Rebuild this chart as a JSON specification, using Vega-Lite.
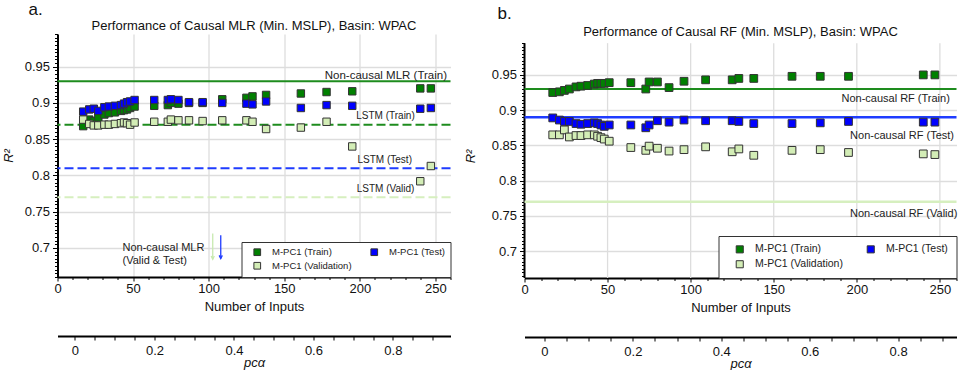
{
  "$schema": "https://vega.github.io/schema/vega-lite/v6.json",
  "padding": {"left": 1.5, "top": 0, "right": 0, "bottom": 0},
  "background": "white",
  "config": {
    "font": "Liberation Sans",
    "view": {"stroke": null},
    "title": {"fontWeight": "normal", "color": "#111111"},
    "axis": {
      "titleFontSize": 13, "titleFontWeight": "normal", "titleColor": "#111111",
      "labelFontSize": 13, "labelColor": "#111111", "labelOverlap": false, "labelFlush": false,
      "domainColor": "#000000", "domainWidth": 2, "tickColor": "#000000", "tickWidth": 1,
      "gridColor": "#dddddd", "gridWidth": 1.3
    }
  },
  "spacing": 12,
  "resolve": {"scale": {"color": "independent"}, "legend": {"color": "independent"}},
  "datasets": {
    "a": [
      {"n": 17, "r2": 0.868, "series": "M-PC1 (Train)"},
      {"n": 21, "r2": 0.877, "series": "M-PC1 (Train)"},
      {"n": 24, "r2": 0.875, "series": "M-PC1 (Train)"},
      {"n": 27, "r2": 0.880, "series": "M-PC1 (Train)"},
      {"n": 31, "r2": 0.884, "series": "M-PC1 (Train)"},
      {"n": 34, "r2": 0.886, "series": "M-PC1 (Train)"},
      {"n": 38, "r2": 0.887, "series": "M-PC1 (Train)"},
      {"n": 42, "r2": 0.889, "series": "M-PC1 (Train)"},
      {"n": 44, "r2": 0.890, "series": "M-PC1 (Train)"},
      {"n": 46, "r2": 0.891, "series": "M-PC1 (Train)"},
      {"n": 48, "r2": 0.893, "series": "M-PC1 (Train)"},
      {"n": 51, "r2": 0.895, "series": "M-PC1 (Train)"},
      {"n": 64, "r2": 0.896, "series": "M-PC1 (Train)"},
      {"n": 73, "r2": 0.897, "series": "M-PC1 (Train)"},
      {"n": 75, "r2": 0.900, "series": "M-PC1 (Train)"},
      {"n": 80, "r2": 0.899, "series": "M-PC1 (Train)"},
      {"n": 87, "r2": 0.900, "series": "M-PC1 (Train)"},
      {"n": 96, "r2": 0.900, "series": "M-PC1 (Train)"},
      {"n": 109, "r2": 0.905, "series": "M-PC1 (Train)"},
      {"n": 125, "r2": 0.907, "series": "M-PC1 (Train)"},
      {"n": 129, "r2": 0.909, "series": "M-PC1 (Train)"},
      {"n": 138, "r2": 0.911, "series": "M-PC1 (Train)"},
      {"n": 161, "r2": 0.913, "series": "M-PC1 (Train)"},
      {"n": 178, "r2": 0.915, "series": "M-PC1 (Train)"},
      {"n": 195, "r2": 0.916, "series": "M-PC1 (Train)"},
      {"n": 240, "r2": 0.920, "series": "M-PC1 (Train)"},
      {"n": 247, "r2": 0.920, "series": "M-PC1 (Train)"},
      {"n": 17, "r2": 0.888, "series": "M-PC1 (Test)"},
      {"n": 21, "r2": 0.891, "series": "M-PC1 (Test)"},
      {"n": 24, "r2": 0.892, "series": "M-PC1 (Test)"},
      {"n": 27, "r2": 0.889, "series": "M-PC1 (Test)"},
      {"n": 31, "r2": 0.894, "series": "M-PC1 (Test)"},
      {"n": 34, "r2": 0.895, "series": "M-PC1 (Test)"},
      {"n": 38, "r2": 0.896, "series": "M-PC1 (Test)"},
      {"n": 42, "r2": 0.897, "series": "M-PC1 (Test)"},
      {"n": 44, "r2": 0.899, "series": "M-PC1 (Test)"},
      {"n": 46, "r2": 0.901, "series": "M-PC1 (Test)"},
      {"n": 48, "r2": 0.902, "series": "M-PC1 (Test)"},
      {"n": 51, "r2": 0.904, "series": "M-PC1 (Test)"},
      {"n": 64, "r2": 0.904, "series": "M-PC1 (Test)"},
      {"n": 73, "r2": 0.904, "series": "M-PC1 (Test)"},
      {"n": 75, "r2": 0.905, "series": "M-PC1 (Test)"},
      {"n": 80, "r2": 0.904, "series": "M-PC1 (Test)"},
      {"n": 87, "r2": 0.901, "series": "M-PC1 (Test)"},
      {"n": 96, "r2": 0.901, "series": "M-PC1 (Test)"},
      {"n": 109, "r2": 0.900, "series": "M-PC1 (Test)"},
      {"n": 125, "r2": 0.899, "series": "M-PC1 (Test)"},
      {"n": 129, "r2": 0.898, "series": "M-PC1 (Test)"},
      {"n": 138, "r2": 0.902, "series": "M-PC1 (Test)"},
      {"n": 161, "r2": 0.893, "series": "M-PC1 (Test)"},
      {"n": 178, "r2": 0.897, "series": "M-PC1 (Test)"},
      {"n": 195, "r2": 0.896, "series": "M-PC1 (Test)"},
      {"n": 240, "r2": 0.892, "series": "M-PC1 (Test)"},
      {"n": 247, "r2": 0.893, "series": "M-PC1 (Test)"},
      {"n": 17, "r2": 0.877, "series": "M-PC1 (Validation)"},
      {"n": 21, "r2": 0.871, "series": "M-PC1 (Validation)"},
      {"n": 24, "r2": 0.869, "series": "M-PC1 (Validation)"},
      {"n": 27, "r2": 0.869, "series": "M-PC1 (Validation)"},
      {"n": 31, "r2": 0.870, "series": "M-PC1 (Validation)"},
      {"n": 34, "r2": 0.870, "series": "M-PC1 (Validation)"},
      {"n": 38, "r2": 0.871, "series": "M-PC1 (Validation)"},
      {"n": 42, "r2": 0.872, "series": "M-PC1 (Validation)"},
      {"n": 44, "r2": 0.873, "series": "M-PC1 (Validation)"},
      {"n": 46, "r2": 0.872, "series": "M-PC1 (Validation)"},
      {"n": 48, "r2": 0.870, "series": "M-PC1 (Validation)"},
      {"n": 51, "r2": 0.873, "series": "M-PC1 (Validation)"},
      {"n": 64, "r2": 0.874, "series": "M-PC1 (Validation)"},
      {"n": 73, "r2": 0.874, "series": "M-PC1 (Validation)"},
      {"n": 75, "r2": 0.877, "series": "M-PC1 (Validation)"},
      {"n": 80, "r2": 0.876, "series": "M-PC1 (Validation)"},
      {"n": 87, "r2": 0.876, "series": "M-PC1 (Validation)"},
      {"n": 96, "r2": 0.875, "series": "M-PC1 (Validation)"},
      {"n": 109, "r2": 0.876, "series": "M-PC1 (Validation)"},
      {"n": 125, "r2": 0.876, "series": "M-PC1 (Validation)"},
      {"n": 129, "r2": 0.874, "series": "M-PC1 (Validation)"},
      {"n": 138, "r2": 0.864, "series": "M-PC1 (Validation)"},
      {"n": 161, "r2": 0.866, "series": "M-PC1 (Validation)"},
      {"n": 178, "r2": 0.874, "series": "M-PC1 (Validation)"},
      {"n": 195, "r2": 0.840, "series": "M-PC1 (Validation)"},
      {"n": 240, "r2": 0.792, "series": "M-PC1 (Validation)"},
      {"n": 247, "r2": 0.813, "series": "M-PC1 (Validation)"}
    ],
    "b": [
      {"n": 17, "r2": 0.925, "series": "M-PC1 (Train)"},
      {"n": 21, "r2": 0.926, "series": "M-PC1 (Train)"},
      {"n": 24, "r2": 0.928, "series": "M-PC1 (Train)"},
      {"n": 27, "r2": 0.930, "series": "M-PC1 (Train)"},
      {"n": 31, "r2": 0.933, "series": "M-PC1 (Train)"},
      {"n": 34, "r2": 0.934, "series": "M-PC1 (Train)"},
      {"n": 38, "r2": 0.935, "series": "M-PC1 (Train)"},
      {"n": 42, "r2": 0.937, "series": "M-PC1 (Train)"},
      {"n": 44, "r2": 0.938, "series": "M-PC1 (Train)"},
      {"n": 46, "r2": 0.938, "series": "M-PC1 (Train)"},
      {"n": 48, "r2": 0.938, "series": "M-PC1 (Train)"},
      {"n": 51, "r2": 0.939, "series": "M-PC1 (Train)"},
      {"n": 64, "r2": 0.939, "series": "M-PC1 (Train)"},
      {"n": 73, "r2": 0.930, "series": "M-PC1 (Train)"},
      {"n": 75, "r2": 0.940, "series": "M-PC1 (Train)"},
      {"n": 80, "r2": 0.940, "series": "M-PC1 (Train)"},
      {"n": 87, "r2": 0.932, "series": "M-PC1 (Train)"},
      {"n": 96, "r2": 0.941, "series": "M-PC1 (Train)"},
      {"n": 109, "r2": 0.943, "series": "M-PC1 (Train)"},
      {"n": 125, "r2": 0.943, "series": "M-PC1 (Train)"},
      {"n": 129, "r2": 0.945, "series": "M-PC1 (Train)"},
      {"n": 138, "r2": 0.945, "series": "M-PC1 (Train)"},
      {"n": 161, "r2": 0.948, "series": "M-PC1 (Train)"},
      {"n": 178, "r2": 0.948, "series": "M-PC1 (Train)"},
      {"n": 195, "r2": 0.948, "series": "M-PC1 (Train)"},
      {"n": 240, "r2": 0.950, "series": "M-PC1 (Train)"},
      {"n": 247, "r2": 0.950, "series": "M-PC1 (Train)"},
      {"n": 17, "r2": 0.889, "series": "M-PC1 (Test)"},
      {"n": 21, "r2": 0.886, "series": "M-PC1 (Test)"},
      {"n": 24, "r2": 0.884, "series": "M-PC1 (Test)"},
      {"n": 27, "r2": 0.884, "series": "M-PC1 (Test)"},
      {"n": 31, "r2": 0.881, "series": "M-PC1 (Test)"},
      {"n": 34, "r2": 0.880, "series": "M-PC1 (Test)"},
      {"n": 38, "r2": 0.881, "series": "M-PC1 (Test)"},
      {"n": 42, "r2": 0.882, "series": "M-PC1 (Test)"},
      {"n": 44, "r2": 0.881, "series": "M-PC1 (Test)"},
      {"n": 46, "r2": 0.879, "series": "M-PC1 (Test)"},
      {"n": 48, "r2": 0.877, "series": "M-PC1 (Test)"},
      {"n": 51, "r2": 0.879, "series": "M-PC1 (Test)"},
      {"n": 64, "r2": 0.879, "series": "M-PC1 (Test)"},
      {"n": 73, "r2": 0.875, "series": "M-PC1 (Test)"},
      {"n": 75, "r2": 0.879, "series": "M-PC1 (Test)"},
      {"n": 80, "r2": 0.885, "series": "M-PC1 (Test)"},
      {"n": 87, "r2": 0.883, "series": "M-PC1 (Test)"},
      {"n": 96, "r2": 0.886, "series": "M-PC1 (Test)"},
      {"n": 109, "r2": 0.885, "series": "M-PC1 (Test)"},
      {"n": 125, "r2": 0.885, "series": "M-PC1 (Test)"},
      {"n": 129, "r2": 0.884, "series": "M-PC1 (Test)"},
      {"n": 138, "r2": 0.881, "series": "M-PC1 (Test)"},
      {"n": 161, "r2": 0.881, "series": "M-PC1 (Test)"},
      {"n": 178, "r2": 0.882, "series": "M-PC1 (Test)"},
      {"n": 195, "r2": 0.884, "series": "M-PC1 (Test)"},
      {"n": 240, "r2": 0.883, "series": "M-PC1 (Test)"},
      {"n": 247, "r2": 0.883, "series": "M-PC1 (Test)"},
      {"n": 17, "r2": 0.865, "series": "M-PC1 (Validation)"},
      {"n": 21, "r2": 0.865, "series": "M-PC1 (Validation)"},
      {"n": 24, "r2": 0.872, "series": "M-PC1 (Validation)"},
      {"n": 27, "r2": 0.862, "series": "M-PC1 (Validation)"},
      {"n": 31, "r2": 0.864, "series": "M-PC1 (Validation)"},
      {"n": 34, "r2": 0.864, "series": "M-PC1 (Validation)"},
      {"n": 38, "r2": 0.865, "series": "M-PC1 (Validation)"},
      {"n": 42, "r2": 0.865, "series": "M-PC1 (Validation)"},
      {"n": 44, "r2": 0.863, "series": "M-PC1 (Validation)"},
      {"n": 46, "r2": 0.861, "series": "M-PC1 (Validation)"},
      {"n": 48, "r2": 0.859, "series": "M-PC1 (Validation)"},
      {"n": 51, "r2": 0.856, "series": "M-PC1 (Validation)"},
      {"n": 64, "r2": 0.847, "series": "M-PC1 (Validation)"},
      {"n": 73, "r2": 0.843, "series": "M-PC1 (Validation)"},
      {"n": 75, "r2": 0.849, "series": "M-PC1 (Validation)"},
      {"n": 80, "r2": 0.846, "series": "M-PC1 (Validation)"},
      {"n": 87, "r2": 0.842, "series": "M-PC1 (Validation)"},
      {"n": 96, "r2": 0.844, "series": "M-PC1 (Validation)"},
      {"n": 109, "r2": 0.848, "series": "M-PC1 (Validation)"},
      {"n": 125, "r2": 0.841, "series": "M-PC1 (Validation)"},
      {"n": 129, "r2": 0.845, "series": "M-PC1 (Validation)"},
      {"n": 138, "r2": 0.836, "series": "M-PC1 (Validation)"},
      {"n": 161, "r2": 0.843, "series": "M-PC1 (Validation)"},
      {"n": 178, "r2": 0.844, "series": "M-PC1 (Validation)"},
      {"n": 195, "r2": 0.840, "series": "M-PC1 (Validation)"},
      {"n": 240, "r2": 0.838, "series": "M-PC1 (Validation)"},
      {"n": 247, "r2": 0.837, "series": "M-PC1 (Validation)"}
    ]
  },
  "hconcat": [
    {
      "title": {"text": "a.", "anchor": "start", "fontSize": 17, "dx": -29, "offset": 1.5, "frame": "group"},
      "spacing": 19,
      "resolve": {"scale": {"color": "independent"}, "legend": {"color": "independent"}},
      "vconcat": [
        {
          "width": 393,
          "height": 243,
          "title": {"text": "Performance of Causal MLR (Min. MSLP), Basin: WPAC", "fontSize": 13, "anchor": "middle", "frame": "group", "offset": -5},
          "resolve": {"axis": {"x": "independent", "y": "independent"}},
          "layer": [
            {
              "data": {"values": [{"r2": 0.93}]},
              "mark": {"type": "rule", "color": "#1e8c1e", "strokeWidth": 2},
              "encoding": {"y": {"field": "r2", "type": "quantitative", "scale": {"domain": [0.66, 0.995], "nice": false, "zero": false}, "axis": null}}
            },
            {
              "data": {"values": [{"r2": 0.87}]},
              "mark": {"type": "rule", "color": "#1e8c1e", "strokeWidth": 2, "strokeDash": [9, 4]},
              "encoding": {"y": {"field": "r2", "type": "quantitative", "axis": null}}
            },
            {
              "data": {"values": [{"r2": 0.81}]},
              "mark": {"type": "rule", "color": "#1f3cff", "strokeWidth": 2, "strokeDash": [9, 4]},
              "encoding": {"y": {"field": "r2", "type": "quantitative", "axis": null}}
            },
            {
              "data": {"values": [{"r2": 0.77}]},
              "mark": {"type": "rule", "color": "#d6efbf", "strokeWidth": 2, "strokeDash": [9, 4]},
              "encoding": {"y": {"field": "r2", "type": "quantitative", "axis": null}}
            },
            {
              "data": {"name": "a"},
              "mark": {"type": "point", "shape": "square", "filled": true, "size": 55, "stroke": "#333333", "strokeWidth": 1, "opacity": 1},
              "encoding": {
                "x": {
                  "field": "n", "type": "quantitative",
                  "scale": {"domain": [0, 260], "nice": false, "zero": false},
                  "axis": {
                    "orient": "bottom",
                    "title": "Number of Inputs", "titlePadding": 5,
                    "values": [0, 10, 20, 30, 40, 50, 60, 70, 80, 90, 100, 110, 120, 130, 140, 150, 160, 170, 180, 190, 200, 210, 220, 230, 240, 250, 260],
                    "labelExpr": "datum.value % 50 == 0 ? datum.label : ''",
                    "labelPadding": 1,
                    "tickSize": {"condition": {"test": "datum.value % 50 == 0", "value": 4}, "value": 2.5},
                    "grid": true,
                    "gridOpacity": {"condition": {"test": "datum.value % 50 == 0", "value": 1}, "value": 0}
                  }
                },
                "y": {
                  "field": "r2", "type": "quantitative",
                  "scale": {"domain": [0.66, 0.995], "nice": false, "zero": false},
                  "axis": {
                    "orient": "left",
                    "title": "R²", "titleFontStyle": "italic", "titlePadding": 9,
                    "values": [0.66,0.665,0.67,0.675,0.68,0.685,0.69,0.695,0.7,0.705,0.71,0.715,0.72,0.725,0.73,0.735,0.74,0.745,0.75,0.755,0.76,0.765,0.77,0.775,0.78,0.785,0.79,0.795,0.8,0.805,0.81,0.815,0.82,0.825,0.83,0.835,0.84,0.845,0.85,0.855,0.86,0.865,0.87,0.875,0.88,0.885,0.89,0.895,0.9,0.905,0.91,0.915,0.92,0.925,0.93,0.935,0.94,0.945,0.95,0.955,0.96,0.965,0.97,0.975,0.98,0.985,0.99,0.995],
                    "format": ".3~g",
                    "labelExpr": "abs(datum.value*20 - round(datum.value*20)) < 0.01 ? datum.label : ''",
                    "labelPadding": 3,
                    "tickSize": {"condition": {"test": "abs(datum.value*20 - round(datum.value*20)) < 0.01", "value": 5}, "value": 3},
                    "grid": true,
                    "gridOpacity": {"condition": {"test": "abs(datum.value*20 - round(datum.value*20)) < 0.01", "value": 1}, "value": 0}
                  }
                },
                "color": {
                  "field": "series", "type": "nominal",
                  "scale": {"domain": ["M-PC1 (Train)", "M-PC1 (Validation)", "M-PC1 (Test)"], "range": ["#008000", "#d3edb6", "#0000ff"]},
                  "legend": {
                    "title": null, "orient": "bottom-right", "offset": 0, "columns": 2,
                    "symbolType": "square", "symbolSize": 45, "symbolStrokeColor": "#333333", "symbolStrokeWidth": 1, "symbolOffset": 6,
                    "labelFontSize": 9.5, "labelColor": "#222222", "labelOffset": 10,
                    "columnPadding": 11, "rowPadding": 2, "padding": 5,
                    "strokeColor": "#333333", "fillColor": "#ffffff", "cornerRadius": 0
                  }
                }
              }
            },
            {
              "data": {"values": [{"n": 257.7, "r2": 0.937, "label": "Non-causal MLR (Train)"}]},
              "mark": {"type": "text", "align": "right", "baseline": "middle", "fontSize": 11.5, "color": "#222222"},
              "encoding": {
                "x": {"field": "n", "type": "quantitative", "axis": null},
                "y": {"field": "r2", "type": "quantitative", "axis": null},
                "text": {"field": "label"}
              }
            },
            {
              "data": {"values": [
                {"n": 217, "r2": 0.882, "label": "LSTM (Train)"},
                {"n": 216.5, "r2": 0.821, "label": "LSTM (Test)"},
                {"n": 217, "r2": 0.7815, "label": "LSTM (Valid)"}
              ]},
              "mark": {"type": "text", "align": "center", "baseline": "middle", "fontSize": 10, "color": "#222222"},
              "encoding": {
                "x": {"field": "n", "type": "quantitative", "axis": null},
                "y": {"field": "r2", "type": "quantitative", "axis": null},
                "text": {"field": "label"}
              }
            },
            {
              "data": {"values": [{"n": 43, "r2": 0.6995, "label": "Non-causal MLR\n(Valid & Test)"}]},
              "mark": {"type": "text", "align": "left", "baseline": "middle", "fontSize": 11, "lineBreak": "\n", "lineHeight": 12.6, "color": "#222222"},
              "encoding": {
                "x": {"field": "n", "type": "quantitative", "axis": null},
                "y": {"field": "r2", "type": "quantitative", "axis": null},
                "text": {"field": "label"}
              }
            },
            {
              "data": {"values": [{"n": 102.7, "r2": 0.72, "r2b": 0.6845}]},
              "mark": {"type": "rule", "color": "#c8eab0", "strokeWidth": 1.3},
              "encoding": {
                "x": {"field": "n", "type": "quantitative", "axis": null},
                "y": {"field": "r2", "type": "quantitative", "axis": null},
                "y2": {"field": "r2b"}
              }
            },
            {
              "data": {"values": [{"n": 102.7, "r2": 0.6845}]},
              "mark": {"type": "point", "shape": "M-0.5,-1L0,0L0.5,-1", "filled": false, "size": 40, "color": "#c8eab0", "strokeWidth": 1.3, "opacity": 1},
              "encoding": {
                "x": {"field": "n", "type": "quantitative", "axis": null},
                "y": {"field": "r2", "type": "quantitative", "axis": null}
              }
            },
            {
              "data": {"values": [{"n": 108, "r2": 0.7176, "r2b": 0.6855}]},
              "mark": {"type": "rule", "color": "#1f3cff", "strokeWidth": 1.3},
              "encoding": {
                "x": {"field": "n", "type": "quantitative", "axis": null},
                "y": {"field": "r2", "type": "quantitative", "axis": null},
                "y2": {"field": "r2b"}
              }
            },
            {
              "data": {"values": [{"n": 108, "r2": 0.6855}]},
              "mark": {"type": "point", "shape": "M-0.5,-1L0,0L0.5,-1", "filled": false, "size": 40, "color": "#1f3cff", "strokeWidth": 1.3, "opacity": 1},
              "encoding": {
                "x": {"field": "n", "type": "quantitative", "axis": null},
                "y": {"field": "r2", "type": "quantitative", "axis": null}
              }
            }
          ]
        },
        {
          "width": 393,
          "height": 1,
          "data": {"values": [{"pc": 0}]},
          "mark": {"type": "point", "opacity": 0},
          "encoding": {
            "x": {
              "field": "pc", "type": "quantitative",
              "scale": {"domain": [-0.044, 0.945], "nice": false, "zero": false},
              "axis": {
                "title": "pcα", "titleFontStyle": "italic", "titlePadding": -1,
                "values": [0, 0.05, 0.1, 0.15, 0.2, 0.25, 0.3, 0.35, 0.4, 0.45, 0.5, 0.55, 0.6, 0.65, 0.7, 0.75, 0.8, 0.85, 0.9],
                "format": "~g",
                "labelExpr": "abs(datum.value*5 - round(datum.value*5)) < 0.01 ? datum.label : ''",
                "labelPadding": 4, "tickSize": 4, "grid": false
              }
            }
          }
        }
      ]
    },
    {
      "title": {"text": "b.", "anchor": "start", "fontSize": 17, "dx": -27, "offset": 3.3, "frame": "group"},
      "spacing": 19,
      "resolve": {"scale": {"color": "independent"}, "legend": {"color": "independent"}},
      "vconcat": [
        {
          "width": 432,
          "height": 244,
          "title": {"text": "Performance of Causal RF (Min. MSLP), Basin: WPAC", "fontSize": 13, "anchor": "middle", "frame": "group", "offset": -5},
          "resolve": {"axis": {"x": "independent", "y": "independent"}},
          "layer": [
            {
              "data": {"values": [{"n": 50}, {"n": 100}, {"n": 150}, {"n": 200}, {"n": 250}]},
              "mark": {"type": "rule", "color": "#dddddd", "strokeWidth": 1.3},
              "encoding": {
                "x": {"field": "n", "type": "quantitative", "scale": {"domain": [0, 260], "nice": false, "zero": false}, "axis": null},
                "y": {"datum": 0.662, "type": "quantitative", "scale": {"domain": [0.662, 1.008], "nice": false, "zero": false}, "axis": null},
                "y2": {"datum": 0.995}
              }
            },
            {
              "data": {"values": [{"n": 0}]},
              "mark": {"type": "rule", "color": "#000000", "strokeWidth": 2},
              "encoding": {
                "x": {"field": "n", "type": "quantitative", "axis": null},
                "y": {"datum": 0.662, "type": "quantitative", "axis": null},
                "y2": {"datum": 0.995}
              }
            },
            {
              "data": {"values": [{"r2": 0.93}]},
              "mark": {"type": "rule", "color": "#1e8c1e", "strokeWidth": 2},
              "encoding": {"y": {"field": "r2", "type": "quantitative", "axis": null}}
            },
            {
              "data": {"values": [{"r2": 0.89}]},
              "mark": {"type": "rule", "color": "#1f3cff", "strokeWidth": 2.5},
              "encoding": {"y": {"field": "r2", "type": "quantitative", "axis": null}}
            },
            {
              "data": {"values": [{"r2": 0.77}]},
              "mark": {"type": "rule", "color": "#d6efbf", "strokeWidth": 2.5},
              "encoding": {"y": {"field": "r2", "type": "quantitative", "axis": null}}
            },
            {
              "data": {"name": "b"},
              "mark": {"type": "point", "shape": "square", "filled": true, "size": 60, "stroke": "#333333", "strokeWidth": 1, "opacity": 1},
              "encoding": {
                "x": {
                  "field": "n", "type": "quantitative",
                  "scale": {"domain": [0, 260], "nice": false, "zero": false},
                  "axis": {
                    "orient": "bottom",
                    "title": "Number of Inputs", "titlePadding": 5,
                    "values": [0, 10, 20, 30, 40, 50, 60, 70, 80, 90, 100, 110, 120, 130, 140, 150, 160, 170, 180, 190, 200, 210, 220, 230, 240, 250, 260],
                    "labelExpr": "datum.value % 50 == 0 ? datum.label : ''",
                    "labelPadding": 1,
                    "tickSize": {"condition": {"test": "datum.value % 50 == 0", "value": 4}, "value": 2.5},
                    "grid": false
                  }
                },
                "y": {
                  "field": "r2", "type": "quantitative",
                  "scale": {"domain": [0.662, 1.008], "nice": false, "zero": false},
                  "axis": {
                    "orient": "left",
                    "title": "R²", "titleFontStyle": "italic", "titlePadding": 14,
                    "domain": false,
                    "values": [0.665,0.67,0.675,0.68,0.685,0.69,0.695,0.7,0.705,0.71,0.715,0.72,0.725,0.73,0.735,0.74,0.745,0.75,0.755,0.76,0.765,0.77,0.775,0.78,0.785,0.79,0.795,0.8,0.805,0.81,0.815,0.82,0.825,0.83,0.835,0.84,0.845,0.85,0.855,0.86,0.865,0.87,0.875,0.88,0.885,0.89,0.895,0.9,0.905,0.91,0.915,0.92,0.925,0.93,0.935,0.94,0.945,0.95,0.955,0.96,0.965,0.97,0.975,0.98,0.985,0.99,0.995],
                    "format": ".3~g",
                    "labelExpr": "abs(datum.value*20 - round(datum.value*20)) < 0.01 ? datum.label : ''",
                    "labelPadding": 3,
                    "tickSize": {"condition": {"test": "abs(datum.value*20 - round(datum.value*20)) < 0.01", "value": 5}, "value": 3},
                    "grid": true,
                    "gridOpacity": {"condition": {"test": "abs(datum.value*20 - round(datum.value*20)) < 0.01", "value": 1}, "value": 0}
                  }
                },
                "color": {
                  "field": "series", "type": "nominal",
                  "scale": {"domain": ["M-PC1 (Train)", "M-PC1 (Validation)", "M-PC1 (Test)"], "range": ["#008000", "#d3edb6", "#0000ff"]},
                  "legend": {
                    "title": null, "orient": "bottom-right", "offset": 0, "columns": 2,
                    "symbolType": "square", "symbolSize": 50, "symbolStrokeColor": "#333333", "symbolStrokeWidth": 1, "symbolOffset": 8,
                    "labelFontSize": 10.5, "labelColor": "#222222", "labelOffset": 10,
                    "columnPadding": 14, "rowPadding": 3, "padding": 8,
                    "strokeColor": "#333333", "fillColor": "#ffffff", "cornerRadius": 0
                  }
                }
              }
            },
            {
              "data": {"values": [
                {"n": 256, "r2": 0.9156, "label": "Non-causal RF (Train)"},
                {"n": 258.5, "r2": 0.864, "label": "Non-causal RF (Test)"},
                {"n": 260.5, "r2": 0.7524, "label": "Non-causal RF (Valid)"}
              ]},
              "mark": {"type": "text", "align": "right", "baseline": "middle", "fontSize": 11, "color": "#222222"},
              "encoding": {
                "x": {"field": "n", "type": "quantitative", "axis": null},
                "y": {"field": "r2", "type": "quantitative", "axis": null},
                "text": {"field": "label"}
              }
            }
          ]
        },
        {
          "width": 432,
          "height": 1,
          "data": {"values": [{"pc": 0}]},
          "mark": {"type": "point", "opacity": 0},
          "encoding": {
            "x": {
              "field": "pc", "type": "quantitative",
              "scale": {"domain": [-0.045, 0.932], "nice": false, "zero": false},
              "axis": {
                "title": "pcα", "titleFontStyle": "italic", "titlePadding": -1,
                "values": [0, 0.05, 0.1, 0.15, 0.2, 0.25, 0.3, 0.35, 0.4, 0.45, 0.5, 0.55, 0.6, 0.65, 0.7, 0.75, 0.8, 0.85, 0.9],
                "format": "~g",
                "labelExpr": "abs(datum.value*5 - round(datum.value*5)) < 0.01 ? datum.label : ''",
                "labelPadding": 4, "tickSize": 4, "grid": false
              }
            }
          }
        }
      ]
    }
  ]
}
